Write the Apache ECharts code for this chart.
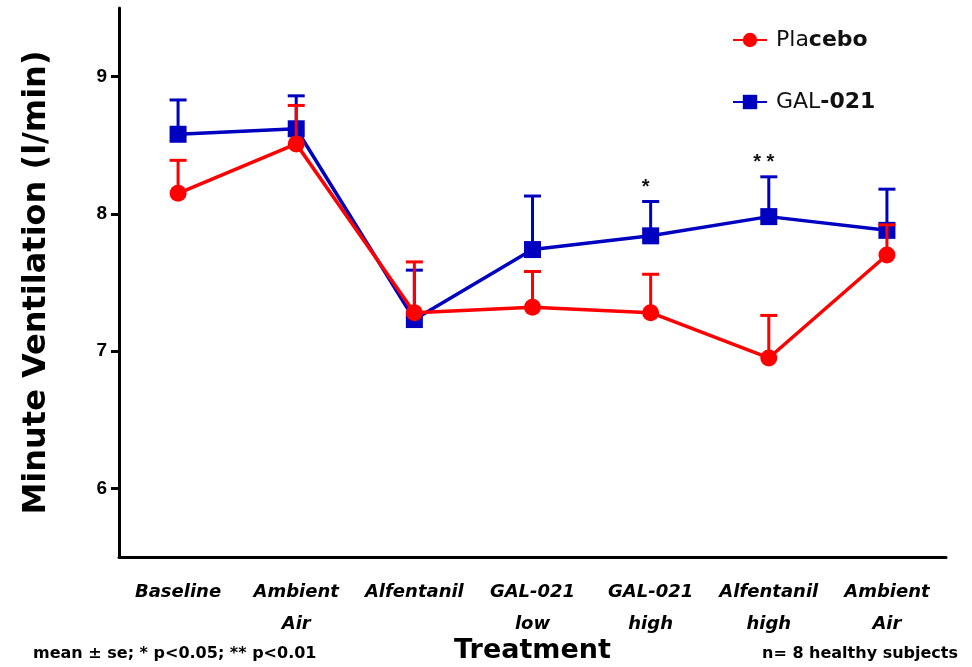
<!DOCTYPE html>
<html>
<head>
<meta charset="utf-8">
<script src="https://cdn.jsdelivr.net/npm/echarts@6/dist/echarts.min.js"></script>
<style>html,body{margin:0;padding:0;background:#fff}#c{width:972px;height:667px}</style>
</head>
<body>
<div id="c"></div>
<script>
const categories = ['Baseline', 'Ambient\nAir', 'Alfentanil', 'GAL-021\nlow', 'GAL-021\nhigh', 'Alfentanil\nhigh', 'Ambient\nAir'];
const placeboMean = [8.15, 8.51, 7.28, 7.32, 7.28, 6.95, 7.70];
const placeboUpper = [8.39, 8.79, 7.65, 7.58, 7.56, 7.26, 7.92];
const galMean = [8.58, 8.62, 7.23, 7.74, 7.84, 7.98, 7.88];
const galUpper = [8.83, 8.86, 7.59, 8.13, 8.09, 8.27, 8.18];
const sigLabels = ['', '', '', '', '*', '* *', ''];
const yTicks = [6, 7, 8, 9];

const RED = '#ff0000', BLUE = '#0000c0';
const FONT = 'Liberation Sans, Arial, sans-serif';
const WIDE = 'DejaVu Sans, sans-serif';

function errData(mean, upper) { return mean.map((m, i) => [i, m, upper[i]]); }
function errRender(color) {
  return function (params, api) {
    const x = api.value(0);
    const p0 = api.coord([x, api.value(1)]);
    const p1 = api.coord([x, api.value(2)]);
    const hw = 8.5;
    const st = { stroke: color, lineWidth: 3 };
    return { type: 'group', children: [
      { type: 'line', shape: { x1: p0[0], y1: p0[1], x2: p1[0], y2: p1[1] }, style: st },
      { type: 'line', shape: { x1: p1[0] - hw, y1: p1[1], x2: p1[0] + hw, y2: p1[1] }, style: st }
    ]};
  };
}

const chart = echarts.init(document.getElementById('c'));
chart.setOption({
  animation: false,
  grid: { left: 119, right: 26, top: 8, bottom: 110, containLabel: false, outerBoundsMode: 'none' },
  legend: {
    orient: 'vertical', left: 727, top: 24, itemGap: 40, itemWidth: 34, itemHeight: 18,
    data: ['Placebo', 'GAL-021'],
    formatter: function (n) { return n === 'Placebo' ? '{r|Pla}{b|cebo}' : '{r|GAL}{b|-021}'; },
    textStyle: { padding: [0, 0, 0, 4], rich: {
      r: { fontFamily: WIDE, fontSize: 22, color: '#111' },
      b: { fontFamily: WIDE, fontSize: 22, fontWeight: 'bold', color: '#111' }
    } }
  },
  xAxis: {
    type: 'category', data: categories, boundaryGap: true,
    name: 'Treatment', nameLocation: 'middle', nameGap: 80, nameMoveOverlap: false,
    nameTextStyle: { fontFamily: WIDE, fontWeight: 'bold', fontSize: 27, color: '#000' },
    axisLine: { lineStyle: { color: '#000', width: 3 } },
    axisTick: { alignWithLabel: true, length: 8, lineStyle: { width: 3, color: '#000' } },
    axisLabel: { fontFamily: WIDE, fontStyle: 'italic', fontWeight: 'bold', fontSize: 18, color: '#000', margin: 19, lineHeight: 32, interval: 0 }
  },
  yAxis: {
    type: 'value', min: 5.5, max: 9.5, interval: 0.5,
    name: 'Minute Ventilation (l/min)', nameLocation: 'middle', nameGap: 66, nameRotate: 90, nameMoveOverlap: false,
    nameTextStyle: { fontFamily: WIDE, fontWeight: 'bold', fontSize: 32, color: '#000' },
    axisLine: { show: true, lineStyle: { color: '#000', width: 3 } },
    axisTick: { show: true, length: 8, customValues: yTicks, lineStyle: { width: 3, color: '#000' } },
    splitLine: { show: false },
    axisLabel: { fontFamily: FONT, fontWeight: 'bold', fontSize: 19, color: '#000', margin: 12, customValues: yTicks }
  },
  graphic: [
    { type: 'text', left: 33, top: 646, style: { text: 'mean ± se; * p<0.05; ** p<0.01', fontFamily: WIDE, fontWeight: 'bold', fontSize: 16, fill: '#000' } },
    { type: 'text', right: 14, top: 646, style: { text: 'n= 8 healthy subjects', fontFamily: WIDE, fontWeight: 'bold', fontSize: 16, fill: '#000' } }
  ],
  series: [
    { name: 'GAL-021 err', type: 'custom', data: errData(galMean, galUpper), renderItem: errRender(BLUE), z: 1, silent: true },
    { name: 'GAL-021', type: 'line', data: galMean, color: BLUE, symbol: 'rect', symbolSize: 17,
      lineStyle: { width: 3.5, color: BLUE }, itemStyle: { color: BLUE }, z: 2 },
    { name: 'Placebo err', type: 'custom', data: errData(placeboMean, placeboUpper), renderItem: errRender(RED), z: 3, silent: true },
    { name: 'Placebo', type: 'line', data: placeboMean, color: RED, symbol: 'circle', symbolSize: 17,
      lineStyle: { width: 3.5, color: RED }, itemStyle: { color: RED }, z: 4 },
    { name: 'sig', type: 'custom', z: 5, silent: true,
      data: galUpper.map((u, i) => [i, u, sigLabels[i]]),
      renderItem: function (params, api) {
        const i = params.dataIndex;
        const p = api.coord([api.value(0), api.value(1)]);
        return { type: 'text', style: { text: sigLabels[i], x: p[0] - 5, y: p[1] - 4, textAlign: 'center', textVerticalAlign: 'bottom',
          fontFamily: FONT, fontWeight: 'bold', fontSize: 20, fill: '#111' } };
      } }
  ]
});
</script>
</body>
</html>
